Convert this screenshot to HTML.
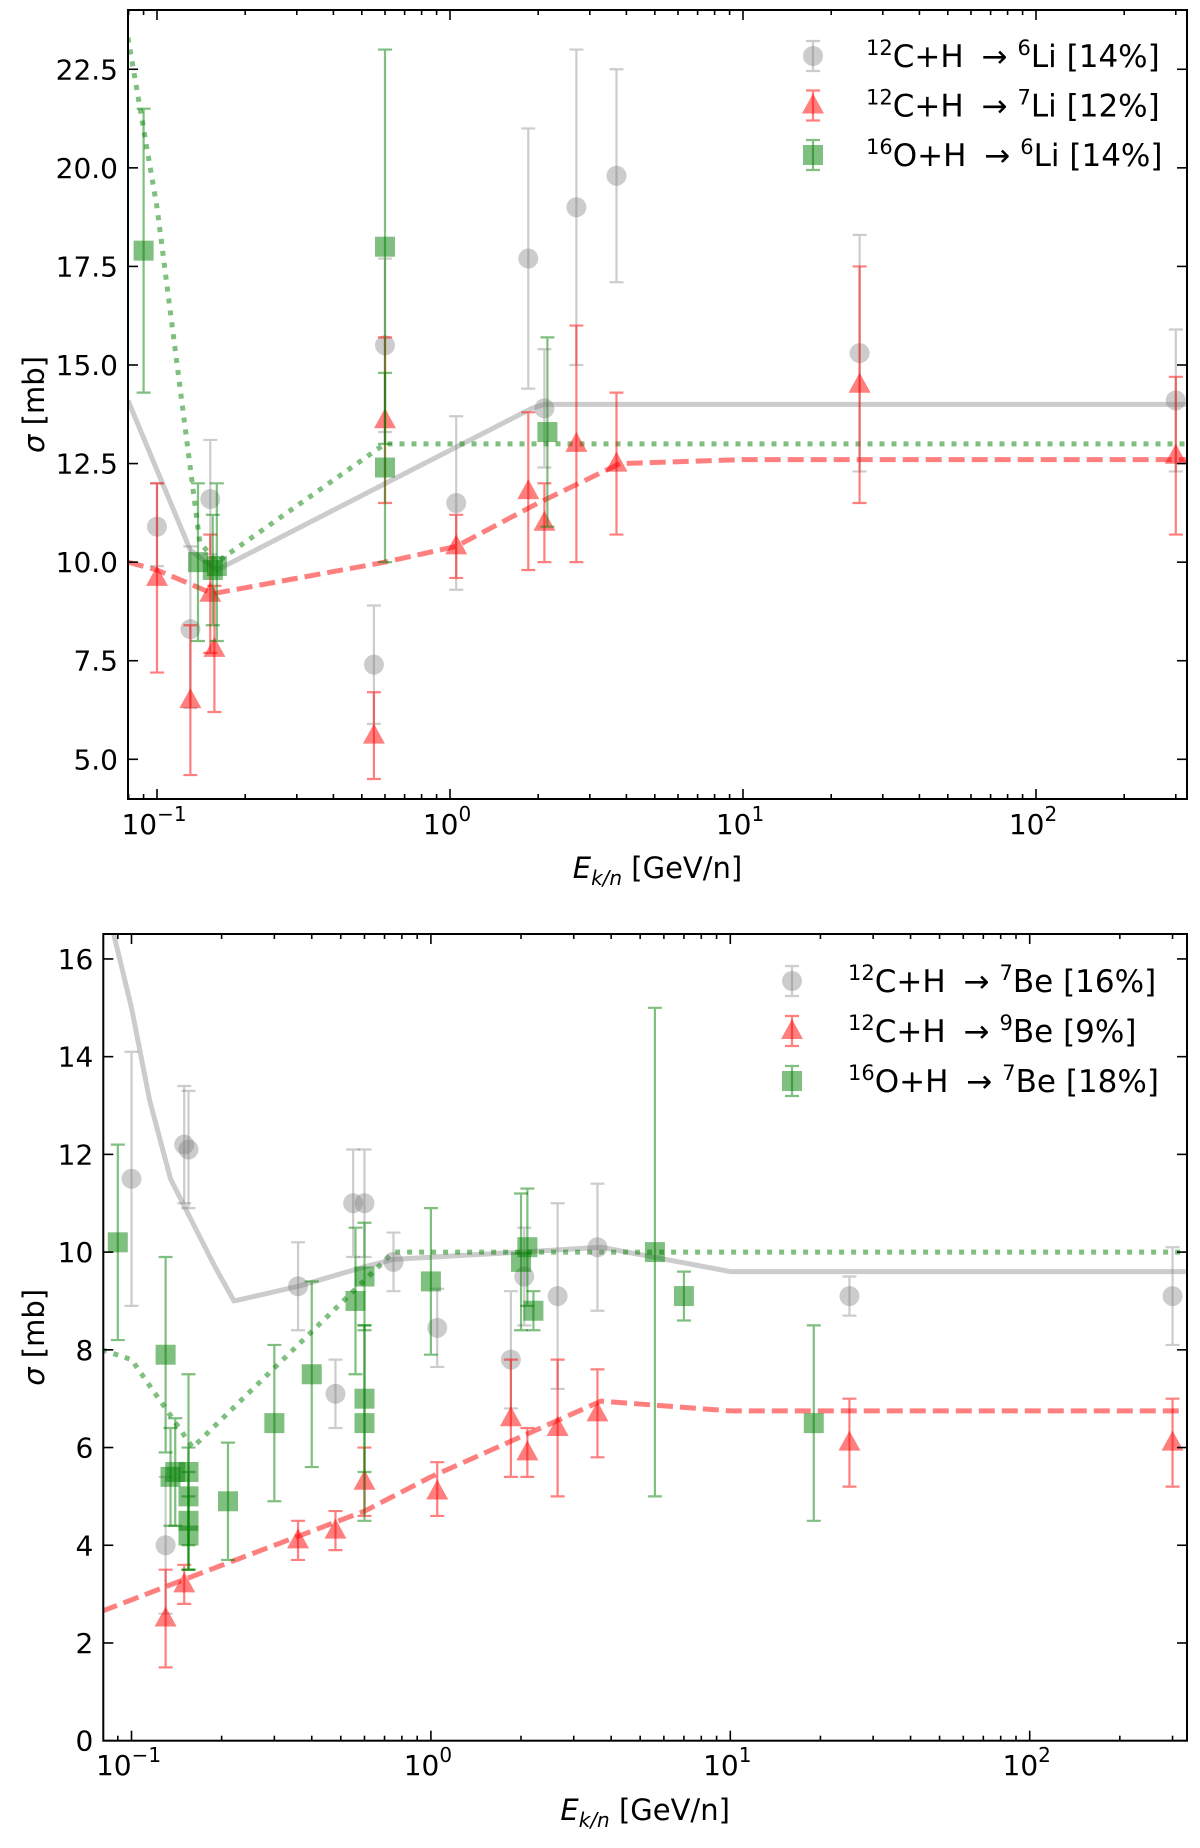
<!DOCTYPE html>
<html><head><meta charset="utf-8"><style>
html,body{margin:0;padding:0;background:#fff;}
svg text{font-family:"DejaVu Sans","Liberation Sans",sans-serif;fill:#000;}
</style></head><body>
<svg id="fig" width="1200" height="1843" viewBox="0 0 1200 1843" xmlns="http://www.w3.org/2000/svg"></svg>
<script>
// ---------- Top panel data (Li) ----------
const liC6x=[0.1,0.13,0.152,0.55,0.6,1.05,1.85,2.1,2.7,3.7,25,300];
const liC6y=[10.9,8.3,11.6,7.4,15.5,11.5,17.7,13.9,19.0,19.8,15.3,14.1];
const liC6lo=[9.9,6.3,10.2,5.9,13.3,9.3,14.4,12.4,15.0,17.1,12.3,12.3];
const liC6hi=[12.0,10.4,13.1,8.9,17.7,13.7,21.0,15.4,23.0,22.5,18.3,15.9];
const liC7x=[0.1,0.13,0.152,0.157,0.55,0.6,1.05,1.85,2.1,2.7,3.7,25,300];
const liC7y=[9.6,6.5,9.2,7.8,5.6,13.6,10.4,11.8,11.0,13.0,12.5,14.5,12.7];
const liC7lo=[7.2,4.6,7.7,6.2,4.5,11.5,9.6,9.8,10.0,10.0,10.7,11.5,10.7];
const liC7hi=[12.0,8.4,10.7,9.4,6.7,15.7,11.2,13.8,12.0,16.0,14.3,17.5,14.7];
const liO6x=[0.09,0.138,0.155,0.16,0.6,0.6,2.15];
const liO6y=[17.9,10.0,9.8,9.9,18.0,12.4,13.3];
const liO6lo=[14.3,8.0,8.4,8.0,13.0,10.0,10.9];
const liO6hi=[21.5,12.0,11.2,12.0,23.0,14.8,15.7];
const liGrayLineX=[0.0796,0.13,0.16,1.9,2.1,330];
const liGrayLineY=[14.1,10.3,9.8,13.9,14.0,14.0];
const liGreenLineX=[0.0796,0.1,0.14,0.16,0.6,330];
const liGreenLineY=[23.3,19.0,10.5,10.0,13.0,13.0];
const liRedLineX=[0.0796,0.1,0.155,0.6,1.05,2.0,3.8,10,330];
const liRedLineY=[10.0,9.8,9.2,10.0,10.4,11.5,12.5,12.6,12.6];
const liYTicks=[5.0,7.5,10.0,12.5,15.0,17.5,20.0,22.5];

// ---------- Bottom panel data (Be) ----------
const beC7x=[0.1,0.13,0.15,0.155,0.36,0.48,0.55,0.6,0.75,1.05,1.85,2.05,2.65,3.6,25,300];
const beC7y=[11.5,4.0,12.2,12.1,9.3,7.1,11.0,11.0,9.8,8.45,7.8,9.5,9.1,10.1,9.1,9.1];
const beC7lo=[8.9,2.6,11.0,10.9,8.4,6.4,9.9,9.9,9.2,7.65,6.8,8.5,7.2,8.8,8.7,8.1];
const beC7hi=[14.1,5.4,13.4,13.3,10.2,7.8,12.1,12.1,10.4,9.25,9.2,10.5,11.0,11.4,9.5,10.1];
const beC9x=[0.13,0.15,0.36,0.48,0.6,1.05,1.85,2.1,2.65,3.6,25,300];
const beC9y=[2.5,3.2,4.1,4.3,5.3,5.1,6.6,5.9,6.4,6.7,6.1,6.1];
const beC9lo=[1.5,2.8,3.7,3.9,4.6,4.6,5.4,5.4,5.0,5.8,5.2,5.2];
const beC9hi=[3.5,3.6,4.5,4.7,6.0,5.7,7.8,6.4,7.8,7.6,7.0,7.0];
const beO7x=[0.09,0.13,0.135,0.14,0.155,0.155,0.155,0.155,0.21,0.3,0.4,0.56,0.6,0.6,0.6,1.0,2.0,2.1,2.2,5.6,7.0,19];
const beO7y=[10.2,7.9,5.4,5.5,5.5,5.0,4.5,4.2,4.9,6.5,7.5,9.0,9.5,7.0,6.5,9.4,9.8,10.1,8.8,10.0,9.1,6.5];
const beO7lo=[8.2,5.9,4.4,4.4,3.5,4.0,3.5,3.5,3.7,4.9,5.6,7.5,8.4,5.5,4.5,7.9,8.4,8.9,8.4,5.0,8.6,4.5];
const beO7hi=[12.2,9.9,6.4,6.6,7.5,6.0,5.5,5.0,6.1,8.1,9.4,10.5,10.6,8.5,8.5,10.9,11.2,11.3,9.2,15.0,9.6,8.5];
const beGrayLineX=[0.0797,0.1,0.115,0.135,0.16,0.19,0.22,0.36,0.6,0.75,2.0,3.7,10,332];
const beGrayLineY=[17.5,15.0,13.1,11.5,10.6,9.7,9.0,9.3,9.7,9.85,10.0,10.1,9.6,9.6];
const beGreenLineX=[0.0797,0.1,0.13,0.16,0.75,332];
const beGreenLineY=[8.0,7.8,6.8,6.0,10.0,10.0];
const beRedLineX=[0.0797,0.15,0.6,1.0,3.7,10,332];
const beRedLineY=[2.65,3.3,4.7,5.4,6.95,6.75,6.75];
const beYTicks=[0,2,4,6,8,10,12,14,16];

const xDecades=[-1,0,1,2];

const NS='http://www.w3.org/2000/svg';
const svg=document.getElementById('fig');
function mk(tag,attrs,parent){const e=document.createElementNS(NS,tag);for(const k in attrs)e.setAttribute(k,attrs[k]);(parent||svg).appendChild(e);return e;}

const GRAY='rgba(128,128,128,0.4)', RED='rgba(255,0,0,0.5)', GREEN='rgba(0,128,0,0.5)';

function panel(cfg){
  const g=mk('g',{});
  
  
  const L=cfg.L,R=cfg.R,T=cfg.T,B=cfg.B;
  const X=v=>cfg.x0px+(Math.log10(v)+1)*cfg.dec;
  const Y=v=>cfg.y0px-(v-cfg.y0)*cfg.ppu;
  const clipId='clip'+cfg.name;
  const cp=mk('clipPath',{id:clipId},g);
  mk('rect',{x:L,y:T,width:R-L,height:B-T},cp);
  const plot=mk('g',{'clip-path':'url(#'+clipId+')'},g);
  function line(xs,ys,color,w,dash,name){
    let d='';xs.forEach((x,i)=>{d+=(i?'L':'M')+X(x).toFixed(1)+','+Y(ys[i]).toFixed(1);});
    const p=mk('path',{d:d,fill:'none',stroke:color,'stroke-width':w,'stroke-dasharray':dash||'none','stroke-linejoin':'round'},plot);
    
    
  }
  line(cfg.grayLine[0],cfg.grayLine[1],'rgba(128,128,128,0.4)',5,null,'model-line-gray');
  line(cfg.greenLine[0],cfg.greenLine[1],'rgba(0,128,0,0.5)',5,'5 7','model-line-green');
  line(cfg.redLine[0],cfg.redLine[1],'rgba(255,0,0,0.5)',5,'16 7','model-line-red');
  function marker(parent,shape,cx,cy,color){
    if(shape==='c') return mk('circle',{cx:cx,cy:cy,r:10,fill:color},parent);
    if(shape==='s') return mk('rect',{x:cx-10,y:cy-10,width:20,height:20,fill:color},parent);
    return mk('path',{d:`M${cx},${cy-12}L${cx+11},${cy+8}L${cx-11},${cy+8}Z`,fill:color},parent);
  }
  function series(xs,ys,lo,hi,color,shape,name){
    const sg=mk('g',{},plot);
    
    
    xs.forEach((x,i)=>{
      const px=X(x),a=Y(lo[i]),b=Y(hi[i]);
      const eb=mk('path',{d:`M${px},${a}L${px},${b}M${px-7},${a}L${px+7},${a}M${px-7},${b}L${px+7},${b}`,stroke:color,'stroke-width':2.2,fill:'none'},sg);
      
      
      const m=marker(sg,shape,px,Y(ys[i]),color);
      
      
    });
  }
  cfg.series.forEach(s=>series(s.x,s.y,s.lo,s.hi,s.color,s.shape,s.name));
  const fr=mk('rect',{x:L,y:T,width:R-L,height:B-T,fill:'none',stroke:'#000','stroke-width':2},g);
  
  
  const tk=mk('g',{stroke:'#000','stroke-width':1.6},g);
  
  
  for(let d=-2;d<=3;d++){for(let m=1;m<10;m++){
    const v=m*Math.pow(10,d);const px=X(v);if(px<L||px>R)continue;
    const len=m===1?10:5;
    mk('line',{x1:px,y1:B,x2:px,y2:B-len},tk);mk('line',{x1:px,y1:T,x2:px,y2:T+len},tk);
  }}
  xDecades.forEach(d=>{
    const t=mk('text',{x:X(Math.pow(10,d))-3,y:cfg.xlabY,'font-size':28,'text-anchor':'middle'},g);
    
    
    t.innerHTML='10<tspan dy="-13" font-size="20">'+(d<0?'−'+(-d):d)+'</tspan>';
  });
  cfg.yTicks.forEach(v=>{
    const py=Y(v);
    mk('line',{x1:L,y1:py,x2:L+10,y2:py},tk);mk('line',{x1:R,y1:py,x2:R-10,y2:py},tk);
    const t=mk('text',{x:L-10,y:py+10,'font-size':28,'text-anchor':'end'},g);
    
    
    t.textContent=cfg.yFmt(v);
  });
  const xt=mk('text',{x:(L+R)/2,y:cfg.xTitleY,'font-size':29,'text-anchor':'middle'},g);
  
  
  xt.innerHTML='<tspan font-style="italic">E</tspan><tspan font-style="italic" font-size="20" dy="7">k/n</tspan><tspan dy="-7"> [GeV/n]</tspan>';
  const yt=mk('text',{x:0,y:0,'font-size':29,'text-anchor':'middle',transform:`translate(44,${(T+B)/2}) rotate(-90)`},g);
  
  
  yt.innerHTML='<tspan font-style="italic">σ</tspan><tspan>  [mb]</tspan>';
  const lg=mk('g',{},g);
  
  
  cfg.series.forEach((s,i)=>{
    const cy=cfg.legY+i*cfg.legDy, cx=cfg.legMX;
    const e=mk('g',{},lg);
    
    
    mk('path',{d:`M${cx},${cy-15}L${cx},${cy+15}M${cx-7},${cy-15}L${cx+7},${cy-15}M${cx-7},${cy+15}L${cx+7},${cy+15}`,stroke:s.color,'stroke-width':2.2,fill:'none'},e);
    marker(e,s.shape,cx,cy,s.color);
    const t=mk('text',{x:cfg.legTX,y:cy+11,'font-size':31,'xml:space':'preserve'},e);
    t.setAttribute('style','white-space:pre');
    t.innerHTML=s.label;
  });
}

function lab(a,b,c,d){return '<tspan dy="-12" font-size="21">'+a+'</tspan><tspan dy="12">'+b+'+H </tspan><tspan dx="8">→</tspan><tspan dx="10" dy="-12" font-size="21">'+c+'</tspan><tspan dy="12">'+d+'</tspan>';}

panel({name:'top-panel-lithium',L:128,R:1187,T:10,B:799,x0px:157,dec:293,y0:5,y0px:759.3,ppu:39.43,
  xlabY:834,xTitleY:878,yTicks:liYTicks,yFmt:v=>v.toFixed(1),
  grayLine:[liGrayLineX,liGrayLineY],greenLine:[liGreenLineX,liGreenLineY],redLine:[liRedLineX,liRedLineY],
  legMX:813,legTX:866,legY:56,legDy:49.5,
  series:[
    {x:liC6x,y:liC6y,lo:liC6lo,hi:liC6hi,color:GRAY,shape:'c',name:'series-12C-6Li',label:lab('12','C','6','Li [14%]')},
    {x:liC7x,y:liC7y,lo:liC7lo,hi:liC7hi,color:RED,shape:'t',name:'series-12C-7Li',label:lab('12','C','7','Li [12%]')},
    {x:liO6x,y:liO6y,lo:liO6lo,hi:liO6hi,color:GREEN,shape:'s',name:'series-16O-6Li',label:lab('16','O','6','Li [14%]')}
  ]});

panel({name:'bottom-panel-beryllium',L:103.3,R:1187,T:934,B:1740.7,x0px:131.5,dec:299.4,y0:0,y0px:1740.7,ppu:48.86,
  xlabY:1775,xTitleY:1820,yTicks:beYTicks,yFmt:v=>String(v),
  grayLine:[beGrayLineX,beGrayLineY],greenLine:[beGreenLineX,beGreenLineY],redLine:[beRedLineX,beRedLineY],
  legMX:792,legTX:848,legY:981,legDy:50,
  series:[
    {x:beC7x,y:beC7y,lo:beC7lo,hi:beC7hi,color:GRAY,shape:'c',name:'series-12C-7Be',label:lab('12','C','7','Be [16%]')},
    {x:beC9x,y:beC9y,lo:beC9lo,hi:beC9hi,color:RED,shape:'t',name:'series-12C-9Be',label:lab('12','C','9','Be [9%]')},
    {x:beO7x,y:beO7y,lo:beO7lo,hi:beO7hi,color:GREEN,shape:'s',name:'series-16O-7Be',label:lab('16','O','7','Be [18%]')}
  ]});
</script>
</body></html>
